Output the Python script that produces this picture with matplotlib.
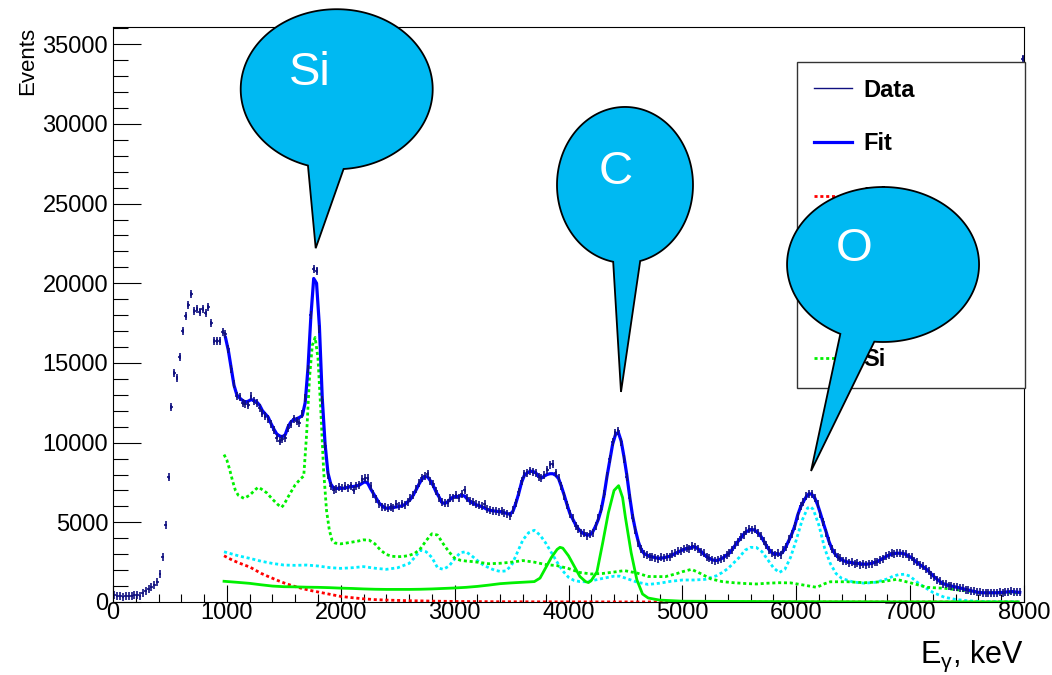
import numpy as np
import matplotlib.pyplot as plt
from matplotlib.lines import Line2D
from matplotlib.patches import Polygon
from matplotlib.ticker import MultipleLocator

plt.rcParams['font.family'] = ['Liberation Sans', 'DejaVu Sans']
plt.rcParams['mathtext.fontset'] = 'custom'
plt.rcParams['mathtext.rm'] = 'Liberation Sans'
plt.rcParams['mathtext.it'] = 'Liberation Sans'

# measured spectrum, 25 keV bins (centres 12.5 ... 7987.5)
data_0k = [420, 360, 380, 340, 370, 360, 390, 420, 430, 380,
           560, 710, 795, 920, 1070, 1275, 1760, 2850, 4830, 7830,
           12220, 14350, 14040, 15350, 17000, 17950, 18640, 19330, 18280, 18370,
           18220, 18370, 18120, 18530, 17530, 16380, 16380, 16380, 16960, 16820]
data_1k = [15900, 14600, 13700, 12900, 12850, 12500, 12450, 12350, 12900, 12600,
           12500, 12200, 11850, 11650, 11500, 11150, 10800, 10300, 10100, 10200,
           10300, 10900, 11150, 11500, 11350, 11250, 11800, 12800, 14600, 18000,
           20900, 20800, 17100, 12700, 9800, 8000, 7300, 7050, 7100, 7200]
data_2k = [7150, 7250, 7150, 7300, 7000, 7300, 7350, 7700, 7750, 7750,
           7250, 6750, 6450, 6150, 5950, 5950, 5900, 5980, 5900, 6150,
           6000, 6180, 6100, 6300, 6500, 6700, 7100, 7450, 7800, 7900,
           8050, 7600, 7400, 6950, 6550, 6250, 6200, 6200, 6500, 6550]
data_3k = [6700, 6550, 6750, 7000, 6500, 6350, 6250, 6150, 6100, 6000,
           6150, 5850, 5750, 5700, 5700, 5650, 5700, 5600, 5550, 5400,
           5750, 6200, 6900, 7600, 8050, 8100, 8250, 8150, 8100, 7850,
           7800, 7950, 8300, 8600, 8650, 8100, 7750, 7250, 6650, 6100]
data_4k = [5500, 5250, 4800, 4600, 4350, 4300, 4150, 4250, 4350, 4800,
           5250, 5850, 6800, 7900, 9000, 10050, 10600, 10750, 10050, 9000,
           7850, 6500, 5300, 4500, 3700, 3300, 3000, 2950, 2850, 2850,
           2750, 2700, 2800, 2750, 2850, 2850, 3000, 3050, 3200, 3200]
data_5k = [3300, 3400, 3350, 3500, 3450, 3350, 3150, 3050, 2800, 2750,
           2650, 2550, 2650, 2700, 2750, 2950, 3100, 3250, 3600, 3750,
           4050, 4200, 4450, 4550, 4500, 4550, 4300, 4150, 3800, 3550,
           3250, 3100, 2950, 3050, 2950, 3250, 3450, 3950, 4250, 4800]
data_6k = [5400, 6000, 6250, 6650, 6750, 6800, 6500, 6150, 5500, 5000,
           4350, 3850, 3300, 3100, 2800, 2750, 2550, 2550, 2450, 2500,
           2400, 2450, 2350, 2400, 2350, 2400, 2400, 2500, 2500, 2650,
           2700, 2900, 2950, 3050, 3000, 3100, 3050, 3000, 3000, 2850]
data_7k = [2800, 2600, 2500, 2300, 2250, 2050, 1950, 1700, 1600, 1400,
           1300, 1150, 1100, 1030, 1010, 950, 930, 870, 850, 780,
           760, 690, 670, 610, 600, 570, 590, 570, 590, 580,
           570, 600, 590, 630, 630, 660, 630, 620, 600, 34100]

# total fit, 987.5 ... 7962.5 keV
fit_start = [16600]
fit_1k = [15800, 14700, 13600, 13000, 12800, 12650, 12550, 12600, 12700, 12650,
          12550, 12350, 12000, 11800, 11600, 11200, 10850, 10550, 10420, 10370,
          10500, 11000, 11300, 11450, 11500, 11580, 11700, 12500, 14700, 17900,
          20300, 20000, 17300, 12800, 9900, 8100, 7400, 7150, 7130, 7130]
fit_2k = [7130, 7150, 7200, 7230, 7250, 7280, 7330, 7450, 7550, 7450,
          7100, 6800, 6500, 6200, 6050, 5900, 5880, 5900, 5940, 5960,
          6000, 6030, 6120, 6280, 6450, 6720, 7050, 7400, 7700, 7860,
          7860, 7600, 7300, 6900, 6600, 6250, 6180, 6280, 6450, 6600]
fit_3k = [6620, 6620, 6700, 6650, 6450, 6300, 6190, 6100, 6050, 5980,
          5900, 5800, 5750, 5720, 5700, 5670, 5650, 5600, 5550, 5500,
          5700, 6200, 6800, 7500, 7950, 8100, 8200, 8200, 8100, 7900,
          7780, 7900, 8000, 8050, 8050, 7950, 7750, 7250, 6700, 6100]
fit_4k = [5550, 5200, 4850, 4580, 4400, 4260, 4200, 4200, 4400, 4750,
          5200, 5800, 6700, 7860, 8900, 9900, 10500, 10650, 10100, 9100,
          7950, 6600, 5400, 4520, 3800, 3300, 3050, 2950, 2880, 2830,
          2780, 2750, 2750, 2780, 2820, 2870, 2950, 3050, 3130, 3220]
fit_5k = [3290, 3350, 3400, 3440, 3460, 3330, 3190, 3000, 2850, 2720,
          2650, 2600, 2620, 2700, 2800, 2940, 3070, 3300, 3550, 3790,
          4000, 4250, 4420, 4500, 4550, 4500, 4350, 4150, 3850, 3530,
          3270, 3080, 3010, 3000, 3010, 3200, 3520, 3900, 4300, 4780]
fit_6k = [5450, 5950, 6300, 6600, 6800, 6750, 6530, 6100, 5550, 4950,
          4400, 3800, 3350, 3050, 2840, 2700, 2600, 2530, 2500, 2470,
          2440, 2420, 2400, 2380, 2370, 2390, 2430, 2480, 2540, 2640,
          2750, 2850, 2930, 3000, 3050, 3060, 3060, 3050, 2980, 2880]
fit_7k = [2780, 2620, 2450, 2330, 2220, 2100, 1930, 1750, 1570, 1420,
          1280, 1160, 1100, 1050, 1000, 960, 920, 880, 840, 790,
          750, 700, 660, 620, 590, 580, 580, 580, 580, 580,
          580, 590, 600, 620, 640, 650, 640, 620, 600]

# fit components
bkg_energy = [975, 1050, 1100, 1150, 1200, 1250, 1300, 1350, 1400, 1450, 1500,
              1550, 1600, 1650, 1700, 1750, 1800, 1850, 1900, 1950, 2000,
              2100, 2200, 2300, 2400, 2500, 2600, 2700, 2800, 2900, 3000,
              3200, 3500, 4000, 4500, 5000, 6000, 7000, 7950]
bkg_counts = [2900, 2620, 2470, 2330, 2200, 2000, 1800, 1640, 1490, 1340, 1200,
              1080, 970, 870, 780, 700, 630, 560, 490, 420, 350,
              270, 200, 150, 120, 100, 80, 70, 55, 45, 35,
              25, 15, 8, 5, 3, 1, 0, 0]

c_energy = [975, 1100, 1200, 1300, 1400, 1500, 1600, 1700,
            1800, 1900, 2000, 2100, 2200, 2300, 2400, 2500, 2600, 2700,
            2800, 2900, 3000, 3100, 3200, 3300, 3400, 3500, 3600, 3700,
            3750, 3800, 3850, 3900, 3925, 3950,
            4000, 4050, 4100, 4150, 4175, 4200,
            4250, 4300, 4350, 4400, 4440, 4475,
            4500, 4550, 4600, 4650, 4700, 4800,
            5000, 6000, 7000, 7950]
c_counts = [1300, 1230, 1170, 1080, 1000, 960, 950, 930,
            920, 900, 870, 850, 820, 800, 790, 790, 790, 800,
            820, 850, 880, 920, 980, 1060, 1150, 1200, 1240, 1280,
            1500, 2150, 2800, 3300, 3430, 3380,
            2900, 2250, 1600, 1280, 1220, 1350,
            1900, 3700, 5600, 7000, 7300, 6550,
            5300, 3100, 1400, 500, 250, 120,
            50, 20, 10, 5]

o_energy = [975, 1050, 1100, 1150, 1200,
            1300, 1400, 1500, 1600, 1700, 1800, 1900, 2000, 2100, 2200, 2300, 2400, 2500,
            2600, 2650, 2700, 2750, 2800, 2850, 2900, 2950, 3000,
            3050, 3100, 3150, 3200, 3250, 3300, 3350, 3400, 3450, 3500,
            3550, 3600, 3650, 3700, 3750, 3800, 3850, 3900, 3950,
            4000, 4050, 4100, 4150, 4200, 4300, 4400, 4450, 4500,
            4600, 4700, 4800, 4900, 5000, 5100, 5200, 5300,
            5350, 5400, 5450, 5500, 5550, 5600, 5650, 5700, 5750, 5800,
            5850, 5900, 5950, 6000, 6050, 6100, 6125,
            6150, 6200, 6250, 6300, 6350, 6400, 6500, 6600, 6700, 6800,
            6850, 6900, 6950, 7000, 7050, 7100, 7200, 7300, 7400, 7500, 7650, 7950]
o_counts = [3150, 3000, 2900, 2820, 2740,
            2560, 2420, 2320, 2300, 2320, 2260, 2160, 2110, 2150, 2220, 2120, 2050, 2150,
            2420, 2800, 3250, 3150, 2800, 2150, 2050, 2250, 2700,
            3100, 3150, 2900, 2600, 2330, 2150, 2000, 1920, 1950, 2300,
            3100, 3900, 4350, 4500, 4200, 3700, 3100, 2500, 1950,
            1550, 1350, 1280, 1270, 1330, 1480, 1620, 1620, 1500,
            1250, 1100, 1180, 1300, 1380, 1380, 1420, 1650,
            1850, 2100, 2450, 2800, 3250, 3430, 3420, 3150, 2650, 2150,
            1850, 2050, 2800, 3890, 5100, 5900, 5980,
            5800, 4800, 3350, 2400, 1780, 1480, 1250, 1180, 1240, 1450,
            1620, 1720, 1740, 1620, 1300, 1050, 600, 300, 160, 80, 20, 10]

si_energy = [975, 1000, 1025, 1050, 1075, 1100, 1150, 1200, 1250, 1275, 1300,
             1350, 1400, 1450, 1480, 1500, 1550, 1600, 1650, 1675, 1700,
             1725, 1750, 1775, 1800, 1825, 1850, 1875, 1900, 1925, 1950,
             2000, 2050, 2100, 2150, 2200, 2250, 2300, 2350, 2400, 2450,
             2500, 2550, 2600, 2650, 2700, 2750, 2800, 2850, 2900, 2950,
             3000, 3050, 3100, 3150, 3200, 3300, 3400, 3500, 3600, 3700,
             3800, 3900, 4000, 4100, 4200, 4300, 4400, 4490, 4600, 4700,
             4850, 4950, 5000, 5080, 5150, 5250, 5350, 5450, 5550, 5650,
             5750, 5850, 5950, 6050, 6180, 6250, 6300, 6450, 6600, 6750,
             6880, 7000, 7150, 7300, 7480, 7630, 7950]
si_counts = [9250, 8900, 8300, 7600, 7000, 6700, 6500, 6700, 7050, 7200, 7100,
             6850, 6450, 6100, 5940, 6100, 6750, 7350, 7750, 7900, 10500,
             14000, 16100, 16600, 15300, 12000, 8200, 5750, 4500, 3850, 3700,
             3650, 3700, 3760, 3820, 3900, 3880, 3650, 3250, 2980, 2870,
             2840, 2860, 2920, 3050, 3350, 3850, 4280, 4200, 3650, 3150,
             2750, 2620, 2570, 2540, 2500, 2400, 2430, 2500, 2600, 2500,
             2350, 2280, 2100, 1850, 1760, 1790, 1880, 1970, 1820, 1600,
             1590, 1780, 1900, 2050, 1820, 1450, 1280, 1210, 1160, 1130,
             1180, 1210, 1200, 1080, 920, 1150, 1270, 1270, 1210, 1270,
             1420, 1210, 920, 860, 710, 580, 570]

legend_labels = ['Data', 'Fit', 'Bkg', 'C', 'O', 'Si']

counts = np.array(data_0k + data_1k + data_2k + data_3k + data_4k + data_5k + data_6k + data_7k)
bin_centres = np.arange(12.5, 8000, 25)
fit_counts = np.array(fit_start + fit_1k + fit_2k + fit_3k + fit_4k + fit_5k + fit_6k + fit_7k)
fit_energy = np.arange(987.5, 7975, 25)

W, H = 1052, 675
fig = plt.figure(figsize=(W / 100, H / 100), dpi=100)
ax = fig.add_axes([113 / W, 73 / H, 911 / W, 575 / H])

navy = '#101080'
blue = '#0000ff'
red = '#ff0000'
green = '#00f000'
cyan = '#00eeff'
dotted = (0, (1.1, 1.0))

ax.plot(bkg_energy, bkg_counts, color=red, lw=2, ls=dotted)
ax.plot(o_energy, o_counts, color=cyan, lw=2, ls=dotted)
ax.plot(si_energy, si_counts, color=green, lw=2, ls=dotted)
ax.plot(c_energy, c_counts, color=green, lw=2)
ax.errorbar(bin_centres, counts, xerr=12.5, yerr=np.sqrt(counts), fmt='|',
            ms=6, mew=1.2, color=navy, elinewidth=1.2, capsize=0)
ax.plot(fit_energy, fit_counts, color=blue, lw=2.3)

ax.set_xlim(0, 8000)
ax.set_ylim(0, 36080)
ax.xaxis.set_major_locator(MultipleLocator(1000))
ax.xaxis.set_minor_locator(MultipleLocator(200))
ax.yaxis.set_major_locator(MultipleLocator(5000))
ax.yaxis.set_minor_locator(MultipleLocator(1000))
ax.tick_params(axis='y', which='major', direction='in', length=20, width=0.8, labelsize=17, pad=3.5)
ax.tick_params(axis='y', which='minor', direction='in', length=11, width=0.8)
ax.tick_params(axis='x', which='major', direction='in', length=12, width=0.8, labelsize=17, pad=0)
ax.tick_params(axis='x', which='minor', direction='in', length=6, width=0.8)
for s in ax.spines.values():
    s.set_linewidth(0.8)

fig.text(28 / W, 1 - 27 / H, 'Events', rotation=90, ha='center', va='top', fontsize=16)
fig.text(1024 / W, 1 - 663 / H, r'E$_{\gamma}$, keV', ha='right', va='baseline', fontsize=22)

handles = [Line2D([], [], color=navy, lw=1),
           Line2D([], [], color=blue, lw=2.3),
           Line2D([], [], color=red, lw=2, ls=dotted),
           Line2D([], [], color=green, lw=2),
           Line2D([], [], color=cyan, lw=2, ls=dotted),
           Line2D([], [], color=green, lw=2, ls=dotted)]
leg = ax.legend(handles, legend_labels, loc='upper left',
                bbox_to_anchor=(797 / W, 1 - 387 / H, 228 / W, 325 / H),
                bbox_transform=fig.transFigure, mode='expand',
                prop={'weight': 'bold', 'size': 17}, handlelength=1.65,
                handletextpad=0.47, labelspacing=1.31, borderpad=0.7,
                borderaxespad=0, fancybox=False, framealpha=1, edgecolor='#333333')
leg.get_frame().set_linewidth(1.0)


# speech balloons: tip in data coords, rest as pixel offsets from the tip
def balloon(tip, centre, a, b, base_l, base_r, label, text_pos):
    tx, ty = ax.transData.transform(tip)
    cx, cy = tx + centre[0], ty + centre[1]
    th_l = np.arctan2((base_l[1] - centre[1]) / b, (base_l[0] - centre[0]) / a)
    th_r = np.arctan2((base_r[1] - centre[1]) / b, (base_r[0] - centre[0]) / a)
    t = np.linspace(th_r, th_l + 2 * np.pi, 200)
    pts = np.column_stack([cx + a * np.cos(t), cy + b * np.sin(t)])
    pts = np.vstack([pts, [tx, ty]])
    pts = fig.transFigure.inverted().transform(pts)
    fig.add_artist(Polygon(pts, closed=True, transform=fig.transFigure,
                           facecolor='#00b9f2', edgecolor='black', lw=1.3, zorder=10))
    fx, fy = fig.transFigure.inverted().transform((tx + text_pos[0], ty + text_pos[1]))
    fig.text(fx, fy, label, color='white', fontsize=34, ha='center', va='baseline', zorder=11)


balloon((1780, 22200), (21, 159), 96, 80, (-8, 82), (28, 78), 'Si', (-6, 163))
balloon((4461, 13180), (4, 207), 68, 78, (-8, 129), (20, 127), 'C', (-5, 208))
balloon((6130, 8220), (72, 206.5), 96, 77.5, (28, 135), (63, 127), 'O', (43, 210))

fig.savefig('out.png', dpi=100)
